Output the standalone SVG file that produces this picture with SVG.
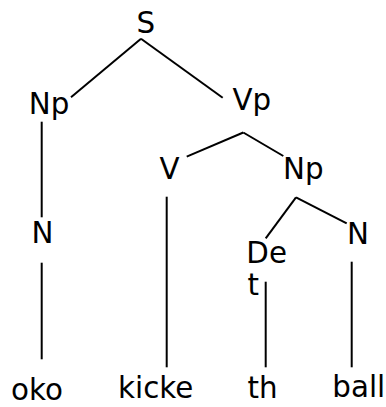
<svg xmlns="http://www.w3.org/2000/svg" width="386" height="407" viewBox="0 0 386 407">
<style>
text{font-family:"DejaVu Sans","Liberation Sans",sans-serif;font-size:29.33px;fill:#000}
.c line{stroke:#000;stroke-width:2;stroke-linecap:butt}
</style>
<rect width="386" height="407" fill="#fff"/>
<g class="c" id="connectors">
<line x1="141" y1="38.7" x2="71" y2="97.3"/>
<line x1="141" y1="38.7" x2="222.7" y2="97.7"/>
<line x1="41.7" y1="121.7" x2="41.7" y2="217.3"/>
<line x1="41.7" y1="262.7" x2="41.7" y2="359.3"/>
<line x1="243.3" y1="132.5" x2="186.7" y2="156.7"/>
<line x1="243.3" y1="132.5" x2="283.3" y2="156"/>
<line x1="166.7" y1="196.7" x2="166.7" y2="367.3"/>
<line x1="296" y1="197.3" x2="265.7" y2="238.3"/>
<line x1="296" y1="197.3" x2="346.7" y2="223.3"/>
<line x1="265.7" y1="281.7" x2="265.7" y2="367.3"/>
<line x1="351.7" y1="261.7" x2="351.7" y2="367.3"/>
</g>
<g id="S"><text x="136.4" y="33">S</text></g>
<g id="Np1"><text x="28.7" y="114">Np</text></g>
<g id="Vp"><text x="232.5" y="110">Vp</text></g>
<g id="N1"><text x="31.5" y="243">N</text></g>
<g id="V"><text x="159.5" y="179">V</text></g>
<g id="Np2"><text x="283" y="179">Np</text></g>
<g id="Det"><text x="246.3" y="263">De</text><text x="247.5" y="295">t</text></g>
<g id="N2"><text x="347" y="244">N</text></g>
<g id="oko"><text x="11" y="400">oko</text></g>
<g id="kicke"><text x="118" y="398">kicke</text></g>
<g id="th"><text x="247.5" y="398">th</text></g>
<g id="ball"><text x="332.3" y="397">ball</text></g>
</svg>
